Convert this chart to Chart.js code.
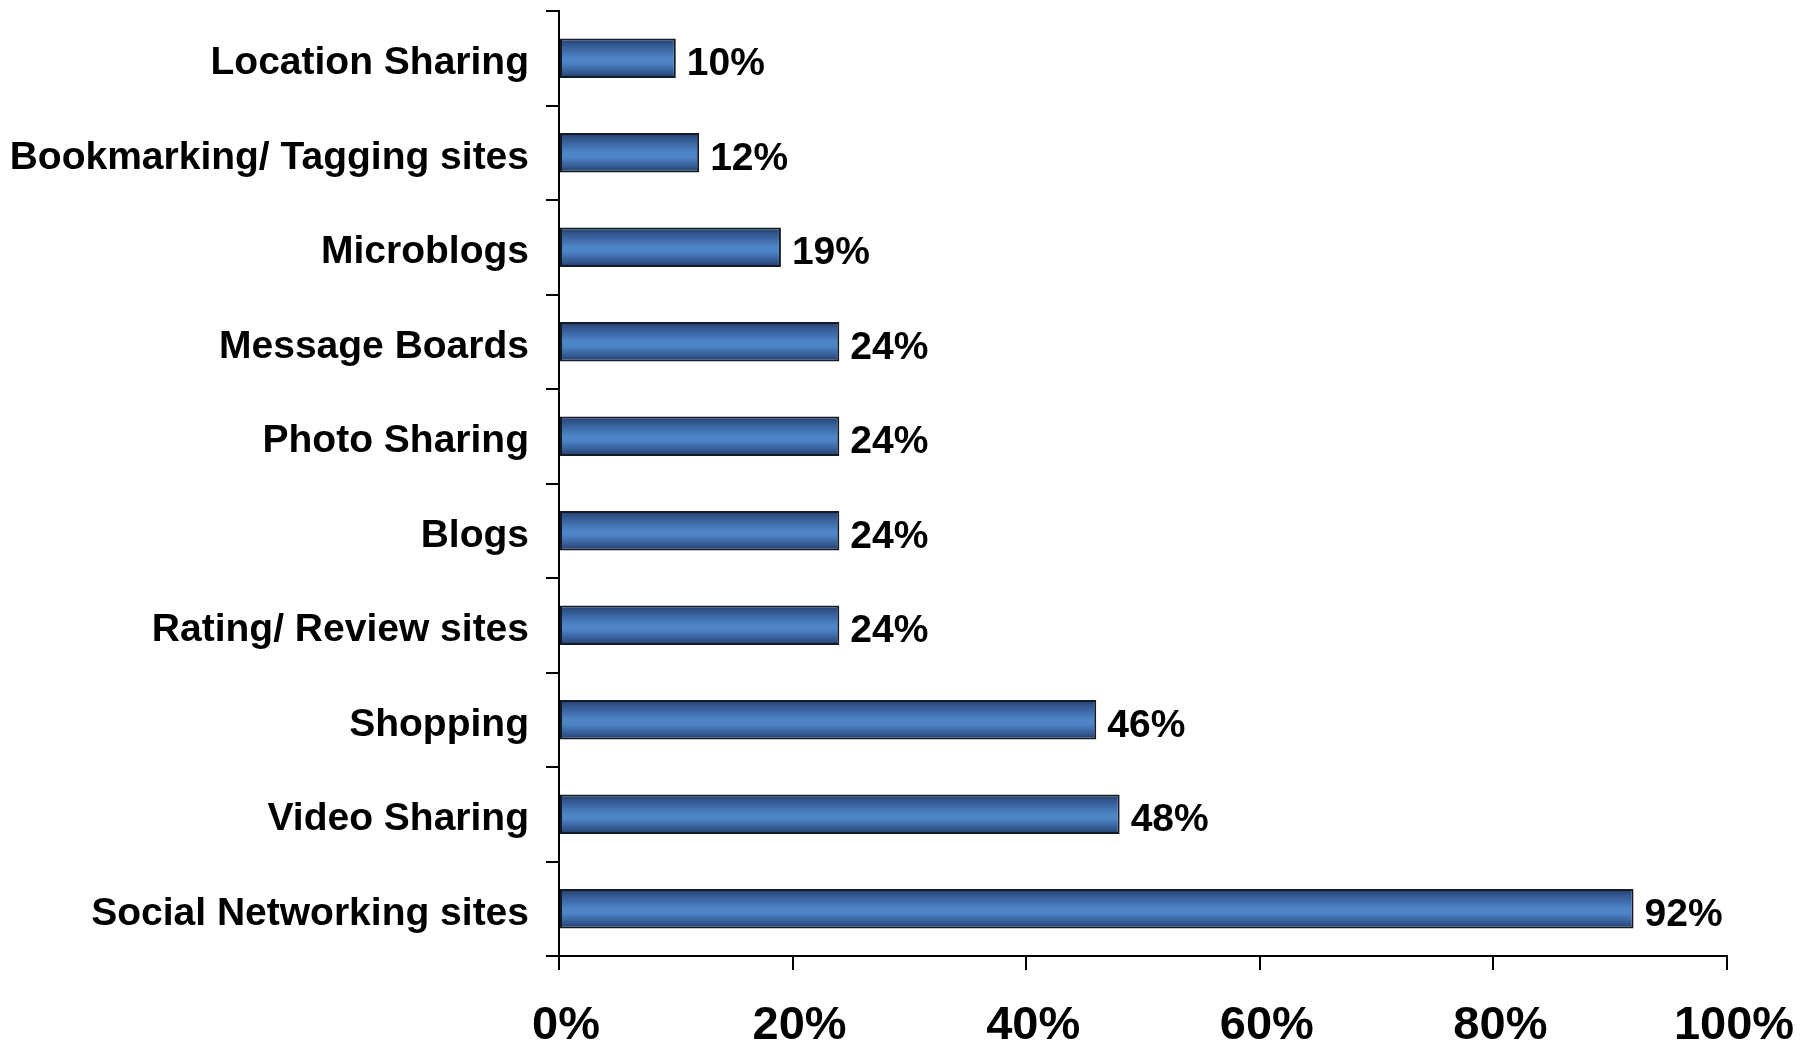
<!DOCTYPE html>
<html>
<head>
<meta charset="utf-8">
<script src="https://cdn.jsdelivr.net/npm/chart.js@4.4.1/dist/chart.umd.min.js"></script>
<style>
  html, body { margin: 0; padding: 0; background: #ffffff; }
  #wrap { width: 1810px; height: 1042px; }
</style>
</head>
<body>
<div id="wrap"><canvas id="usageChart" width="1810" height="1042"></canvas></div>
<script>
// ===== DATA =====
const categories = [
  "Location Sharing",
  "Bookmarking/ Tagging sites",
  "Microblogs",
  "Message Boards",
  "Photo Sharing",
  "Blogs",
  "Rating/ Review sites",
  "Shopping",
  "Video Sharing",
  "Social Networking sites"
];
const shareValues = [10, 12, 19, 24, 24, 24, 24, 46, 48, 92];
const xTickValues = [0, 20, 40, 60, 80, 100];

const FONT = "'Liberation Sans', Arial, sans-serif";
const BAR_PCT = 0.42;

// gradient per bar, built from the y scale position of that category
function barGradient(c) {
  const chart = c.chart;
  const y = chart.scales && chart.scales.y;
  if (!y || c.dataIndex === undefined || !isFinite(y.top)) return "#4a7fc1";
  const cy = y.getPixelForValue(c.dataIndex);
  const h = (y.bottom - y.top) / categories.length * BAR_PCT;
  const g = chart.ctx.createLinearGradient(0, cy - h / 2, 0, cy + h / 2);
  g.addColorStop(0, "#223c64");
  g.addColorStop(0.15, "#31568f");
  g.addColorStop(0.5, "#4f86c8");
  g.addColorStop(0.62, "#4d84c5");
  g.addColorStop(0.88, "#30548b");
  g.addColorStop(1, "#213a60");
  return g;
}

// value labels next to the bars
const valueLabels = {
  id: "valueLabels",
  afterDatasetsDraw(chart) {
    const ctx = chart.ctx;
    const meta = chart.getDatasetMeta(0);
    ctx.save();
    ctx.font = "bold 39px " + FONT;
    ctx.fillStyle = "#000";
    ctx.textAlign = "left";
    ctx.textBaseline = "middle";
    meta.data.forEach(function (bar, i) {
      ctx.fillText(shareValues[i] + "%", bar.x + 11, bar.y + 6);
    });
    ctx.restore();
  }
};

new Chart(document.getElementById("usageChart"), {
  type: "bar",
  data: {
    labels: categories,
    datasets: [{
      data: shareValues,
      backgroundColor: barGradient,
      borderColor: "#141a26",
      borderWidth: 2,
      borderSkipped: false,
      barPercentage: BAR_PCT,
      categoryPercentage: 1
    }]
  },
  options: {
    indexAxis: "y",
    responsive: false,
    animation: false,
    layout: {
      padding: { top: 11, right: 83, left: 0, bottom: 0 }
    },
    plugins: {
      legend: { display: false },
      tooltip: { enabled: false }
    },
    scales: {
      x: {
        type: "linear",
        min: 0,
        max: 100,
        afterBuildTicks: function (scale) {
          scale.ticks = xTickValues.map(function (v) { return { value: v }; });
        },
        afterFit: function (scale) {
          scale.height = 86;
          scale.paddingLeft = 0;
          scale.paddingRight = 0;
        },
        grid: {
          drawOnChartArea: false,
          drawTicks: true,
          tickLength: 14,
          color: "#000",
          lineWidth: 2
        },
        border: { display: true, color: "#000", width: 2 },
        ticks: {
          padding: 28,
          labelOffset: 7,
          color: "#000",
          font: { family: FONT, size: 47, weight: "bold" },
          callback: function (v) { return v + "%"; }
        }
      },
      y: {
        afterFit: function (scale) {
          scale.width = 559;
          scale.paddingTop = 0;
          scale.paddingBottom = 0;
        },
        grid: {
          offset: true,
          drawOnChartArea: false,
          drawTicks: true,
          tickLength: 13,
          color: "#000",
          lineWidth: 2
        },
        border: { display: true, color: "#000", width: 2 },
        ticks: {
          padding: 17,
          labelOffset: 5,
          color: "#000",
          font: { family: FONT, size: 39, weight: "bold" }
        }
      }
    }
  },
  plugins: [valueLabels]
});
</script>
</body>
</html>
